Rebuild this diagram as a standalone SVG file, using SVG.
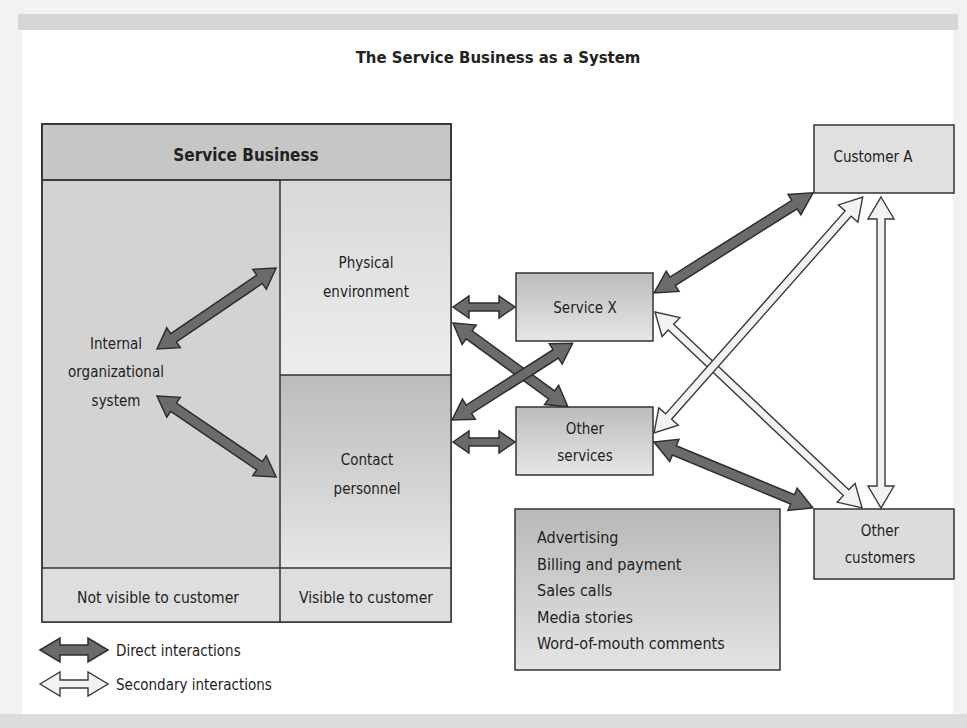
<svg xmlns="http://www.w3.org/2000/svg" width="967" height="728" viewBox="0 0 967 728">
<defs>
<style>
text{font-family:"Liberation Sans Narrow","DejaVu Sans Condensed","Liberation Sans",sans-serif;fill:#222;font-size:15px}
.t{text-anchor:middle}
.b{font-weight:bold}
.ttl{font-size:16.6px}
.hd{font-size:17px}
.s155{font-size:15.5px}
.s16{font-size:16px}
.box{stroke:#333;stroke-width:1.5}
.ln{stroke:#333;stroke-width:1.5;fill:none}
.dk{fill:#6b6b6b;stroke:#2e2e2e;stroke-width:1.5;stroke-linejoin:miter}
.wh{fill:#f2f2f2;stroke:#3a3a3a;stroke-width:1.4}
</style>
<linearGradient id="gv" x1="0" y1="0" x2="0" y2="1"><stop offset="0" stop-color="#bcbcbc"/><stop offset="1" stop-color="#e6e6e6"/></linearGradient>
<linearGradient id="gp" x1="0" y1="0" x2="0" y2="1"><stop offset="0" stop-color="#d8d8d8"/><stop offset="1" stop-color="#ededed"/></linearGradient>
<linearGradient id="gl" x1="0" y1="0" x2="0" y2="1"><stop offset="0" stop-color="#b8b8b8"/><stop offset="1" stop-color="#e4e4e4"/></linearGradient>
</defs>
<rect x="0" y="0" width="967" height="728" fill="#f2f2f2"/>
<rect x="18" y="14" width="940" height="16" fill="#d6d6d6"/>
<rect x="0" y="714" width="967" height="14" fill="#dcdcdc"/>
<rect x="22" y="30" width="931" height="684" fill="#ffffff"/>
<text class="t b ttl" x="498" y="63">The Service Business as a System</text>

<g id="service-business">
<rect class="box" x="42" y="124" width="409" height="498" fill="#d3d3d3"/>
<rect x="42" y="124" width="409" height="56" fill="#c6c6c6" class="box"/>
<rect x="280" y="180" width="171" height="195" fill="url(#gp)"/>
<rect x="280" y="375" width="171" height="193" fill="url(#gv)"/>
<rect x="42" y="568" width="409" height="54" fill="#dedede"/>
<rect class="ln" x="42" y="124" width="409" height="498"/>
<line class="ln" x1="42" y1="180" x2="451" y2="180"/>
<line class="ln" x1="280" y1="180" x2="280" y2="622"/>
<line class="ln" x1="280" y1="375" x2="451" y2="375"/>
<line class="ln" x1="42" y1="568" x2="451" y2="568"/>
<text class="t b hd" x="246" y="161">Service Business</text>
<text class="t s155" x="158" y="603">Not visible to customer</text>
<text class="t s155" x="366" y="603">Visible to customer</text>
</g>
<g id="internal"><text class="t" x="116" y="349">Internal</text><text class="t" x="116" y="377">organizational</text><text class="t" x="116" y="406">system</text></g>
<g id="physical"><text class="t" x="366" y="268">Physical</text><text class="t" x="366" y="297">environment</text></g>
<g id="contact"><text class="t" x="367" y="465">Contact</text><text class="t" x="367" y="494">personnel</text></g>

<g id="service-x"><rect class="box" x="516" y="273" width="137" height="68" fill="url(#gv)"/><text class="t" x="585" y="313">Service X</text></g>
<g id="other-services"><rect class="box" x="516" y="407" width="137" height="68" fill="url(#gv)"/><text class="t" x="585" y="434">Other</text><text class="t" x="585" y="461">services</text></g>
<g id="customer-a"><rect class="box" x="814" y="125" width="140" height="68" fill="#e0e0e0"/><text class="t" x="873" y="162">Customer A</text></g>
<g id="other-customers"><rect class="box" x="814" y="509" width="140" height="70" fill="#dcdcdc"/><text class="t" x="880" y="536">Other</text><text class="t" x="880" y="563">customers</text></g>
<g id="channels"><rect class="box" x="515" y="509" width="265" height="161" fill="url(#gl)"/>
<text class="s16" x="537" y="543">Advertising</text><text class="s16" x="537" y="570">Billing and payment</text><text class="s16" x="537" y="596">Sales calls</text><text class="s16" x="537" y="623">Media stories</text><text class="s16" x="537" y="649">Word-of-mouth comments</text></g>

<g id="connectors">
<path class="dk" transform="translate(157,349) rotate(-34.2)" d="M0,0 L20,-12 L20,-5 L124,-5 L124,-12 L144,0 L124,12 L124,5 L20,5 L20,12 Z"/>
<path class="dk" transform="translate(157,396) rotate(34.2)" d="M0,0 L20,-12 L20,-5 L124,-5 L124,-12 L144,0 L124,12 L124,5 L20,5 L20,12 Z"/>
<path class="dk" transform="translate(453,307)" d="M0,0 L16,-11 L16,-4 L46,-4 L46,-11 L62,0 L46,11 L46,4 L16,4 L16,11 Z"/>
<path class="dk" transform="translate(453,442)" d="M0,0 L16,-11 L16,-4 L46,-4 L46,-11 L62,0 L46,11 L46,4 L16,4 L16,11 Z"/>
<path class="dk" transform="translate(453,323) rotate(36.1)" d="M0,0 L20,-12 L20,-5 L122,-5 L122,-12 L142,0 L122,12 L122,5 L20,5 L20,12 Z"/>
<path class="dk" transform="translate(452,420) rotate(-32.5)" d="M0,0 L20,-12 L20,-5 L123,-5 L123,-12 L143,0 L123,12 L123,5 L20,5 L20,12 Z"/>
<path class="dk" transform="translate(654,293) rotate(-32.2)" d="M0,0 L22,-12 L22,-5 L166,-5 L166,-12 L188,0 L166,12 L166,5 L22,5 L22,12 Z"/>
<path class="dk" transform="translate(654,442) rotate(22.5)" d="M0,0 L22,-12 L22,-5 L150,-5 L150,-12 L172,0 L150,12 L150,5 L22,5 L22,12 Z"/>
<path class="wh" transform="translate(655,312) rotate(43.4)" d="M0,0 L22,-13 L22,-4 L263,-4 L263,-13 L285,0 L263,13 L263,4 L22,4 L22,13 Z"/>
<path class="wh" transform="translate(654,433) rotate(-48.5)" d="M0,0 L22,-13 L22,-4 L293,-4 L293,-13 L315,0 L293,13 L293,4 L22,4 L22,13 Z"/>
<path class="wh" transform="translate(881,197) rotate(90)" d="M0,0 L22,-13 L22,-4 L289,-4 L289,-13 L311,0 L289,13 L289,4 L22,4 L22,13 Z"/>
</g>

<g id="legend">
<path class="dk" transform="translate(40,650)" d="M0,0 L20,-12 L20,-5 L48,-5 L48,-12 L68,0 L48,12 L48,5 L20,5 L20,12 Z"/>
<text x="116" y="656">Direct interactions</text>
<path class="wh" transform="translate(40,684)" d="M0,0 L20,-12 L20,-4 L48,-4 L48,-12 L68,0 L48,12 L48,4 L20,4 L20,12 Z"/>
<text x="116" y="690">Secondary interactions</text>
</g>
</svg>
